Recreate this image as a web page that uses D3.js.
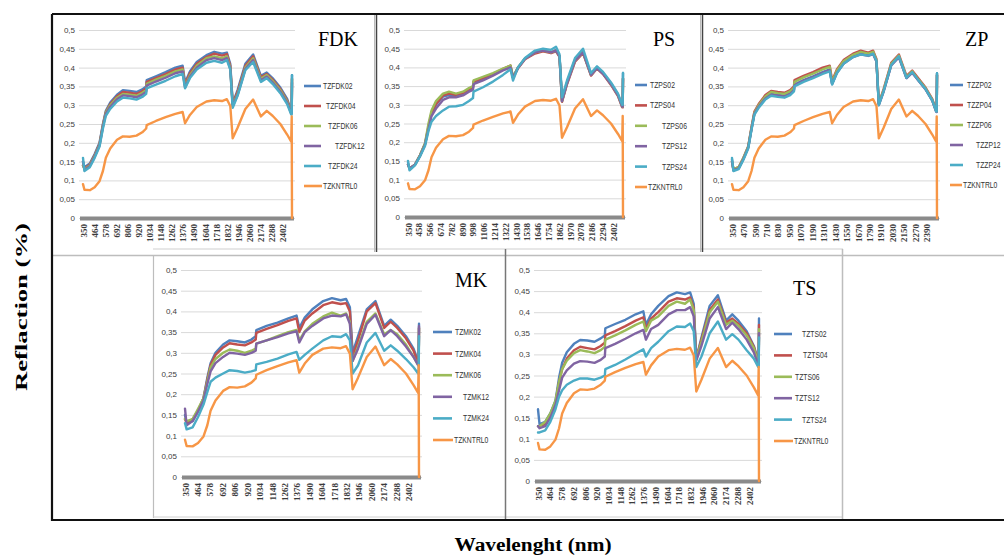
<!DOCTYPE html>
<html><head><meta charset="utf-8">
<script src="https://cdn.jsdelivr.net/npm/d3@7"></script>
<style>body{margin:0;background:#fff}svg{display:block}</style>
</head><body>
<svg id="c" width="1004" height="555"></svg>
<script>
// ---------- data ----------
const wavelengths = [350,365,420,470,520,555,585,630,700,760,830,900,960,1000,1005,1100,1200,1300,1375,1400,1450,1520,1620,1700,1780,1830,1865,1890,1940,2020,2100,2180,2240,2300,2380,2450,2492,2497,2500];
const yTickValues = [0,0.05,0.1,0.15,0.2,0.25,0.3,0.35,0.4,0.45,0.5];
const yTickLabels = ["0","0,05","0,1","0,15","0,2","0,25","0,3","0,35","0,4","0,45","0,5"];
const xTicks114 = [350,464,578,692,806,920,1034,1148,1262,1376,1490,1604,1718,1832,1946,2060,2174,2288,2402];
const xTicks108 = [350,458,566,674,782,890,998,1106,1214,1322,1430,1538,1646,1754,1862,1970,2078,2186,2294,2402];
const xTicks120 = [350,470,590,710,830,950,1070,1190,1310,1430,1550,1670,1790,1910,2030,2150,2270,2390];

const control = [0.09,0.075,0.074,0.082,0.098,0.125,0.16,0.185,0.208,0.217,0.216,0.219,0.228,0.238,0.247,0.258,0.268,0.277,0.282,0.252,0.274,0.295,0.31,0.313,0.311,0.316,0.298,0.212,0.24,0.29,0.315,0.27,0.285,0.272,0.25,0.222,0.203,0.27,0];

const fdk02 = [0.15,0.135,0.145,0.17,0.2,0.25,0.285,0.307,0.328,0.34,0.338,0.335,0.342,0.35,0.367,0.377,0.388,0.4,0.405,0.36,0.39,0.415,0.433,0.442,0.437,0.44,0.41,0.305,0.34,0.41,0.435,0.378,0.387,0.372,0.347,0.317,0.285,0.285,0.38];
const fdk04 = [0.14,0.132,0.142,0.167,0.197,0.247,0.282,0.303,0.324,0.335,0.333,0.33,0.337,0.345,0.362,0.372,0.383,0.395,0.4,0.355,0.385,0.41,0.428,0.437,0.432,0.436,0.405,0.302,0.335,0.405,0.43,0.374,0.383,0.368,0.343,0.313,0.282,0.282,0.37];
const fdk06 = [0.14,0.13,0.14,0.165,0.195,0.245,0.28,0.3,0.32,0.33,0.328,0.325,0.333,0.34,0.357,0.368,0.378,0.39,0.395,0.35,0.38,0.405,0.425,0.43,0.425,0.43,0.4,0.3,0.33,0.4,0.425,0.37,0.38,0.365,0.34,0.31,0.28,0.28,0.37];
const fdk12 = [0.15,0.128,0.138,0.163,0.193,0.242,0.277,0.296,0.316,0.326,0.324,0.321,0.328,0.336,0.352,0.363,0.373,0.385,0.39,0.347,0.376,0.4,0.42,0.425,0.42,0.425,0.397,0.297,0.327,0.396,0.42,0.366,0.376,0.361,0.336,0.307,0.278,0.278,0.36];
const fdk24 = [0.16,0.125,0.135,0.16,0.19,0.238,0.272,0.29,0.31,0.32,0.318,0.315,0.322,0.33,0.345,0.355,0.365,0.377,0.383,0.345,0.372,0.395,0.413,0.418,0.413,0.42,0.395,0.293,0.325,0.393,0.415,0.362,0.372,0.357,0.332,0.303,0.275,0.275,0.38];

const ps02 = [0.145,0.13,0.14,0.165,0.195,0.24,0.275,0.3,0.322,0.326,0.325,0.33,0.34,0.345,0.36,0.37,0.38,0.395,0.404,0.373,0.4,0.424,0.44,0.446,0.44,0.447,0.43,0.31,0.36,0.42,0.442,0.38,0.4,0.385,0.357,0.327,0.297,0.297,0.385];
const ps04 = [0.14,0.13,0.14,0.165,0.195,0.242,0.278,0.302,0.325,0.33,0.327,0.332,0.342,0.347,0.362,0.372,0.382,0.396,0.405,0.372,0.398,0.422,0.437,0.443,0.438,0.443,0.428,0.308,0.355,0.415,0.438,0.378,0.397,0.382,0.353,0.323,0.293,0.293,0.37];
const ps06 = [0.14,0.13,0.14,0.165,0.197,0.25,0.285,0.31,0.33,0.335,0.33,0.335,0.345,0.35,0.365,0.375,0.385,0.397,0.405,0.375,0.4,0.424,0.44,0.445,0.44,0.445,0.43,0.31,0.358,0.418,0.44,0.38,0.398,0.384,0.355,0.325,0.295,0.295,0.37];
const ps12 = [0.14,0.13,0.14,0.163,0.193,0.235,0.27,0.29,0.313,0.32,0.32,0.325,0.335,0.34,0.355,0.365,0.378,0.392,0.4,0.372,0.398,0.423,0.44,0.445,0.44,0.445,0.43,0.31,0.357,0.418,0.44,0.38,0.398,0.383,0.355,0.325,0.295,0.295,0.37];
const ps24 = [0.15,0.125,0.138,0.162,0.19,0.23,0.255,0.27,0.285,0.295,0.296,0.3,0.31,0.318,0.335,0.347,0.362,0.38,0.395,0.365,0.4,0.425,0.445,0.45,0.447,0.455,0.435,0.32,0.365,0.425,0.45,0.385,0.403,0.388,0.36,0.33,0.3,0.3,0.385];

const zp02 = [0.155,0.128,0.133,0.158,0.188,0.238,0.278,0.298,0.32,0.33,0.327,0.325,0.332,0.342,0.355,0.367,0.377,0.388,0.395,0.357,0.387,0.412,0.43,0.437,0.433,0.437,0.417,0.302,0.337,0.407,0.428,0.372,0.387,0.368,0.343,0.313,0.283,0.283,0.385];
const zp04 = [0.15,0.13,0.135,0.16,0.19,0.242,0.283,0.303,0.327,0.338,0.335,0.333,0.34,0.35,0.367,0.378,0.388,0.4,0.405,0.365,0.395,0.42,0.437,0.445,0.44,0.445,0.423,0.305,0.343,0.413,0.435,0.378,0.392,0.373,0.347,0.317,0.287,0.287,0.38];
const zp06 = [0.15,0.13,0.135,0.16,0.19,0.24,0.28,0.3,0.323,0.335,0.332,0.33,0.337,0.347,0.362,0.374,0.384,0.395,0.402,0.362,0.392,0.417,0.434,0.442,0.437,0.442,0.42,0.305,0.34,0.41,0.432,0.375,0.39,0.37,0.345,0.315,0.285,0.285,0.38];
const zp12 = [0.15,0.127,0.132,0.157,0.187,0.237,0.277,0.296,0.318,0.328,0.325,0.323,0.33,0.34,0.353,0.365,0.375,0.386,0.393,0.356,0.386,0.41,0.428,0.435,0.431,0.436,0.416,0.3,0.336,0.406,0.428,0.372,0.386,0.367,0.342,0.312,0.282,0.282,0.38];
const zp24 = [0.16,0.125,0.13,0.155,0.185,0.235,0.275,0.293,0.315,0.325,0.322,0.32,0.327,0.337,0.35,0.362,0.372,0.383,0.39,0.355,0.385,0.41,0.428,0.435,0.432,0.437,0.418,0.3,0.337,0.407,0.43,0.373,0.388,0.368,0.343,0.313,0.283,0.283,0.385];

const mk02 = [0.15,0.13,0.135,0.16,0.19,0.24,0.275,0.3,0.32,0.33,0.328,0.325,0.332,0.34,0.355,0.365,0.373,0.383,0.39,0.36,0.385,0.405,0.425,0.432,0.427,0.43,0.41,0.3,0.34,0.405,0.425,0.365,0.38,0.365,0.34,0.31,0.28,0.28,0.37];
const mk04 = [0.14,0.13,0.14,0.16,0.19,0.235,0.27,0.295,0.313,0.323,0.32,0.318,0.325,0.332,0.348,0.358,0.367,0.377,0.383,0.35,0.378,0.395,0.415,0.422,0.418,0.42,0.4,0.29,0.33,0.4,0.42,0.36,0.375,0.36,0.335,0.305,0.275,0.275,0.36];
const mk06 = [0.14,0.135,0.14,0.165,0.19,0.23,0.265,0.285,0.3,0.308,0.305,0.3,0.305,0.31,0.322,0.33,0.34,0.35,0.355,0.33,0.352,0.37,0.388,0.397,0.39,0.395,0.375,0.28,0.315,0.375,0.395,0.345,0.355,0.345,0.32,0.29,0.27,0.27,0.36];
const mk12 = [0.165,0.125,0.135,0.158,0.185,0.225,0.255,0.275,0.29,0.3,0.298,0.295,0.3,0.305,0.322,0.33,0.338,0.347,0.352,0.325,0.35,0.365,0.383,0.39,0.388,0.393,0.37,0.28,0.31,0.37,0.392,0.34,0.355,0.34,0.315,0.29,0.27,0.27,0.365];
const mk24 = [0.13,0.115,0.12,0.145,0.175,0.205,0.23,0.24,0.25,0.258,0.256,0.252,0.255,0.258,0.272,0.278,0.286,0.296,0.302,0.283,0.295,0.31,0.33,0.34,0.338,0.345,0.33,0.25,0.27,0.325,0.348,0.305,0.318,0.305,0.285,0.265,0.25,0.25,0.34];

const ts02 = [0.17,0.135,0.14,0.16,0.19,0.245,0.28,0.305,0.325,0.334,0.333,0.33,0.338,0.345,0.362,0.372,0.382,0.395,0.402,0.37,0.395,0.415,0.438,0.447,0.443,0.447,0.42,0.29,0.34,0.415,0.44,0.38,0.395,0.38,0.355,0.32,0.285,0.285,0.385];
const ts04 = [0.13,0.13,0.135,0.155,0.185,0.235,0.265,0.29,0.31,0.318,0.315,0.312,0.32,0.328,0.345,0.355,0.367,0.38,0.388,0.36,0.385,0.4,0.425,0.433,0.43,0.435,0.41,0.29,0.335,0.405,0.43,0.375,0.385,0.372,0.35,0.318,0.282,0.282,0.37];
const ts06 = [0.13,0.13,0.14,0.16,0.19,0.235,0.265,0.285,0.303,0.31,0.307,0.303,0.31,0.318,0.335,0.345,0.357,0.37,0.378,0.355,0.38,0.39,0.415,0.425,0.42,0.43,0.405,0.29,0.33,0.4,0.425,0.37,0.38,0.368,0.345,0.315,0.28,0.28,0.36];
const ts12 = [0.13,0.125,0.13,0.15,0.18,0.215,0.245,0.262,0.278,0.284,0.283,0.28,0.287,0.295,0.315,0.325,0.337,0.35,0.358,0.335,0.36,0.37,0.395,0.405,0.405,0.412,0.39,0.285,0.32,0.385,0.412,0.36,0.375,0.36,0.335,0.305,0.275,0.275,0.35];
const ts24 = [0.115,0.115,0.12,0.14,0.17,0.2,0.215,0.228,0.238,0.243,0.243,0.24,0.245,0.25,0.265,0.275,0.288,0.302,0.312,0.295,0.315,0.33,0.355,0.366,0.365,0.373,0.355,0.27,0.295,0.35,0.378,0.335,0.348,0.335,0.31,0.29,0.27,0.27,0.34];

const seriesColors = ["#4F81BD","#C0504D","#9BBB59","#8064A2","#4BACC6","#F79646"];

// ---------- layout ----------
const panels = [
  {title:"FDK", names:["TZFDK02","TZFDK04","TZFDK06","TZFDK12","TZFDK24","TZKNTRL0"], data:[fdk02,fdk04,fdk06,fdk12,fdk24,control], ticks:xTicks114,
   x0:83, x1:292, y0:218, y5:30, tpos:[318,46], leg:{a:304,b:321,y:86,dy:20,tx:[323,326,328,335,328,323]}},
  {title:"PS", names:["TZPS02","TZPS04","TZPS06","TZPS12","TZPS24","TZKNTRL0"], data:[ps02,ps04,ps06,ps12,ps24,control], ticks:xTicks108,
   x0:408, x1:623, y0:217, y5:30, tpos:[653,46], leg:{a:635,b:647,y:85,dy:20.4,tx:[650,650,662,662,662,648]}},
  {title:"ZP", names:["TZZP02","TZZP04","TZZP06","TZZP12","TZZP24","TZKNTRL0"], data:[zp02,zp04,zp06,zp12,zp24,control], ticks:xTicks120,
   x0:732, x1:937, y0:218, y5:30, tpos:[965,46], leg:{a:950,b:963,y:85,dy:20,tx:[967,967,967,976,976,963]}},
  {title:"MK", names:["TZMK02","TZMK04","TZMK06","TZMK12","TZMK24","TZKNTRL0"], data:[mk02,mk04,mk06,mk12,mk24,control], ticks:xTicks114,
   x0:185, x1:419, y0:477, y5:270, tpos:[455,287], leg:{a:433,b:452,y:332,dy:21.6,tx:[455,455,455,463,463,454]}},
  {title:"TS", names:["TZTS02","TZTS04","TZTS06","TZTS12","TZTS24","TZKNTRL0"], data:[ts02,ts04,ts06,ts12,ts24,control], ticks:xTicks114,
   x0:538, x1:759, y0:481, y5:270, tpos:[793,295], leg:{a:774,b:792,y:334,dy:21.4,tx:[802,803,795,795,802,794]}}
];

const svg = d3.select("#c");
svg.append("rect").attr("width",1004).attr("height",555).attr("fill","#fff");

// frames
const fr = svg.append("g").attr("fill","none");
const ln = (x1,y1,x2,y2,c,w)=>fr.append("line").attr("x1",x1).attr("y1",y1).attr("x2",x2).attr("y2",y2).attr("stroke",c).attr("stroke-width",w);
ln(153,249,843,249,"#cfcfcf",1.2);
ln(52,255.5,1004,255.5,"#bdbdbd",1.5);
ln(153.5,255,153.5,518,"#bdbdbd",1.2);
ln(153,517,842,517,"#d0d0d0",1);
ln(505.5,249,505.5,519,"#777",1.5);
ln(842.5,249,842.5,519,"#bdbdbd",1.5);
ln(374.5,14,374.5,252,"#bbb",1);
ln(376.5,14,376.5,252,"#444",1.5);
ln(700.5,14,700.5,252,"#bbb",1);
ln(702.5,14,702.5,252,"#444",1.5);
ln(52,14,1004,14,"#111",2.2);
ln(52,14,52,521,"#111",2.2);
ln(52,520,1004,520,"#111",2.2);

panels.forEach(p=>{
  const g = svg.append("g");
  const x = d3.scaleLinear().domain([350,2500]).range([p.x0,p.x1]);
  const y = d3.scaleLinear().domain([0,0.5]).range([p.y0,p.y5]);

  // y axis + gridlines
  const ya = g.append("g").attr("transform",`translate(${p.x0},0)`)
    .call(d3.axisLeft(y).tickValues(yTickValues).tickFormat((d,i)=>yTickLabels[i]).tickSize(-(p.x1-p.x0+3)).tickPadding(8));
  ya.select(".domain").remove();
  ya.selectAll(".tick line").attr("stroke","#d9d9d9").attr("stroke-width",1).attr("x1",-4);
  ya.selectAll(".tick text").attr("font-family","Liberation Sans, Arial, sans-serif").attr("font-size",8).attr("fill","#404040");

  // x axis
  const xa = g.append("g").attr("transform",`translate(0,${p.y0})`)
    .call(d3.axisBottom(x).tickValues(p.ticks).tickFormat(d=>String(d)).tickSize(0));
  xa.select(".domain").remove();
  xa.selectAll(".tick text")
    .attr("font-family","Liberation Serif, Times New Roman, serif").attr("font-size",9).attr("font-weight","bold").attr("fill","#3a3a3a")
    .attr("transform","rotate(-90)").attr("text-anchor","end").attr("x",-6).attr("y",0).attr("dy","0.35em");
  g.append("rect").attr("x",p.x0-3).attr("y",p.y0-1.5).attr("width",p.x1-p.x0+5).attr("height",4).attr("fill","#8a8a8a");

  // series
  const line = d3.line().x((d,i)=>x(wavelengths[i])).y(d=>y(d)).curve(d3.curveLinear);
  p.data.forEach((s,k)=>{
    g.append("path").attr("d",line(s)).attr("fill","none").attr("stroke",seriesColors[k])
      .attr("stroke-width",2.4).attr("stroke-linejoin","round").attr("stroke-linecap","round");
  });

  // legend (condensed text via horizontal scale)
  p.names.forEach((n,k)=>{
    const yy = p.leg.y + k*p.leg.dy;
    const xb = k===5 ? p.leg.tx[k]-1 : p.leg.b;
    g.append("line").attr("x1",p.leg.a).attr("x2",xb).attr("y1",yy).attr("y2",yy)
      .attr("stroke",seriesColors[k]).attr("stroke-width",2.6);
    g.append("text").attr("transform",`translate(${p.leg.tx[k]},${yy}) scale(0.8,1)`).attr("dy","0.35em")
      .attr("font-family","Liberation Sans, Arial, sans-serif").attr("font-size",8.5).attr("fill","#333").text(n);
  });

  // title
  g.append("text").attr("x",p.tpos[0]).attr("y",p.tpos[1])
    .attr("font-family","Liberation Serif, Times New Roman, serif").attr("font-size",20).attr("fill","#000").text(p.title);
});

// axis titles
svg.append("text").attr("transform","translate(27,307) rotate(-90)").attr("text-anchor","middle")
  .attr("font-family","Liberation Serif, Times New Roman, serif").attr("font-weight","bold").attr("font-size",17)
  .attr("textLength",168).attr("lengthAdjust","spacingAndGlyphs").text("Reflaction  (%)");
svg.append("text").attr("x",533).attr("y",551).attr("text-anchor","middle")
  .attr("font-family","Liberation Serif, Times New Roman, serif").attr("font-weight","bold").attr("font-size",18)
  .attr("textLength",157).attr("lengthAdjust","spacingAndGlyphs").text("Wavelenght (nm)");
</script>
</body></html>
